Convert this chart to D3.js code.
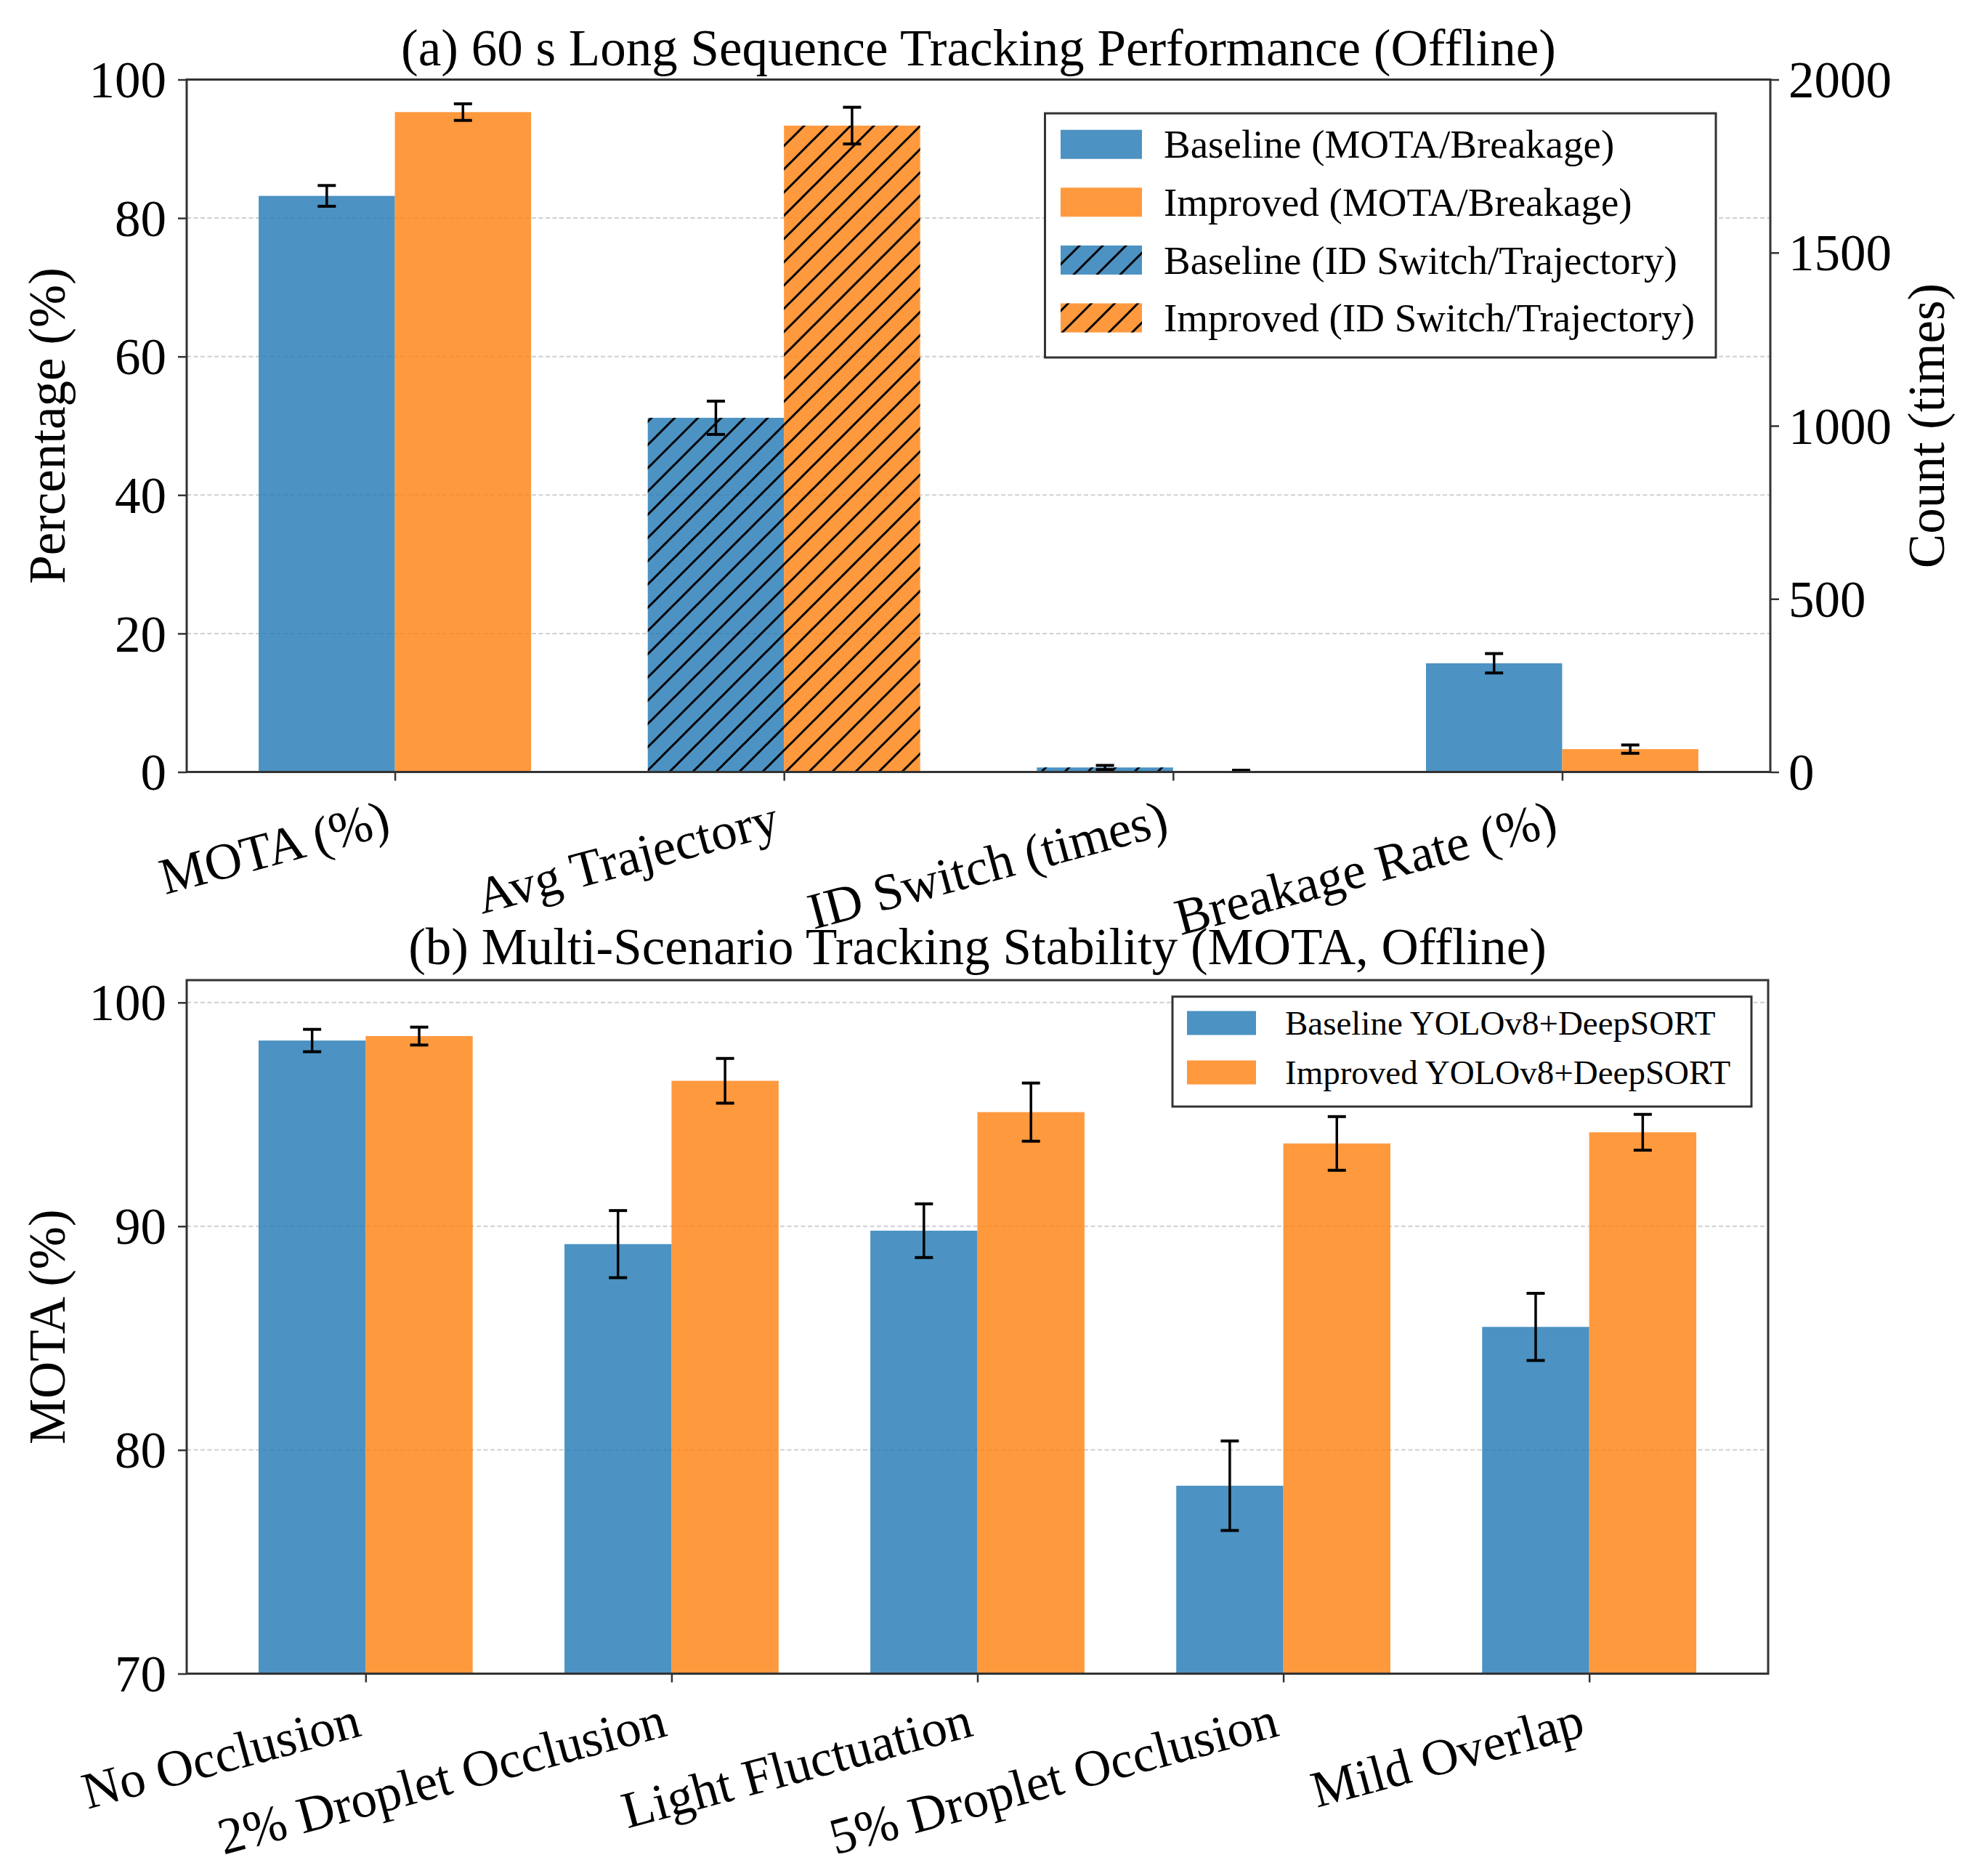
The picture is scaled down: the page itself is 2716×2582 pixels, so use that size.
<!DOCTYPE html>
<html>
<head>
<meta charset="utf-8">
<script src="https://cdn.jsdelivr.net/npm/d3@7"></script>
<style>
  html, body { margin: 0; padding: 0; background: #fff; }
  svg { display: block; }
</style>
</head>
<body>
<svg id="chart"></svg>
<script>
// ---- data: panel (a) ----
const topCategories = ["MOTA (%)", "Avg Trajectory", "ID Switch (times)", "Breakage Rate (%)"];
const topAxisSide = ["left", "right", "right", "left"];   // which y axis the pair uses
const topHatched = [false, true, true, false];
const topBaseline = [83.2, 1023, 13, 15.7];
const topBaselineErr = [1.5, 48, 6, 1.4];
const topImproved = [95.3, 1867, 3, 3.3];
const topImprovedErr = [1.2, 53, 2, 0.6];
const topLeftTicks = [0, 20, 40, 60, 80, 100];
const topRightTicks = [0, 500, 1000, 1500, 2000];
const topLegend = ["Baseline (MOTA/Breakage)", "Improved (MOTA/Breakage)",
  "Baseline (ID Switch/Trajectory)", "Improved (ID Switch/Trajectory)"];

// ---- data: panel (b) ----
const scenarios = ["No Occlusion", "2% Droplet Occlusion", "Light Fluctuation", "5% Droplet Occlusion", "Mild Overlap"];
const scenBaseline = [98.3, 89.2, 89.8, 78.4, 85.5];
const scenBaselineErr = [0.5, 1.5, 1.2, 2.0, 1.5];
const scenImproved = [98.5, 96.5, 95.1, 93.7, 94.2];
const scenImprovedErr = [0.4, 1.0, 1.3, 1.2, 0.8];
const scenTicks = [70, 80, 90, 100];
const scenLegend = ["Baseline YOLOv8+DeepSORT", "Improved YOLOv8+DeepSORT"];

const W = 2716, H = 2582;
const FONT = "'Liberation Serif', 'Times New Roman', serif";
const FS = 71;
const BLUE = "#1f77b4", ORANGE = "#ff7f0e";
const BAR_OPACITY = 0.8;
const SPINE = "#333";
const barW = 0.35;

const svg = d3.select("#chart").attr("width", W).attr("height", H)
  .style("font-family", FONT);
svg.append("rect").attr("width", W).attr("height", H).attr("fill", "#fff");

const defs = svg.append("defs");
defs.append("pattern")
  .attr("id", "hatch")
  .attr("patternUnits", "userSpaceOnUse")
  .attr("width", 32).attr("height", 32)
  .append("path")
  .attr("d", "M-8,8 L8,-8 M0,32 L32,0 M24,40 L40,24")
  .attr("stroke", "#000").attr("stroke-width", 3);

function styleAxis(g) {
  g.select(".domain").remove();
  g.selectAll(".tick line").attr("stroke", SPINE).attr("stroke-width", 2.5);
  g.selectAll(".tick text").attr("fill", "#000")
    .style("font-family", FONT).style("font-size", FS + "px");
}

function rotateLabels(g) {
  // matplotlib-ish rotation=15, ha='right'
  g.selectAll(".tick text")
    .attr("x", 0).attr("y", 0).attr("dy", null)
    .attr("text-anchor", "end")
    .attr("transform", "translate(-4,85) rotate(-15)");
}

function grid(g, y, ticks, x0, x1) {
  g.selectAll(null).data(ticks).enter().append("line")
    .attr("x1", x0).attr("x2", x1)
    .attr("y1", d => y(d)).attr("y2", d => y(d))
    .attr("stroke", "#d0d0d0").attr("stroke-width", 2)
    .attr("stroke-dasharray", "6,3.5");
}

function errBar(g, cx, yTop, yBot) {
  g.append("line").attr("x1", cx).attr("x2", cx).attr("y1", yTop).attr("y2", yBot)
    .attr("stroke", "#000").attr("stroke-width", 3.5);
  [yTop, yBot].forEach(yy => g.append("line")
    .attr("x1", cx - 12.5).attr("x2", cx + 12.5).attr("y1", yy).attr("y2", yy)
    .attr("stroke", "#000").attr("stroke-width", 4));
}

function frame(g, x0, y0, x1, y1) {
  g.append("rect").attr("x", x0).attr("y", y0)
    .attr("width", x1 - x0).attr("height", y1 - y0)
    .attr("fill", "none").attr("stroke", SPINE).attr("stroke-width", 3);
}

// ================= panel (a) =================
{
  const L = 257, R = 2437, T = 109.5, B = 1062.5;
  const g = svg.append("g");
  const x = d3.scaleLinear().domain([-0.535, topCategories.length - 1 + 0.535]).range([L, R]);
  const yL = d3.scaleLinear().domain([0, 100]).range([B, T]);
  const yR = d3.scaleLinear().domain([0, 2000]).range([B, T]);

  grid(g, yL, [20, 40, 60, 80], L, R);

  const series = [
    { vals: topBaseline, errs: topBaselineErr, color: BLUE, off: -barW / 2 },
    { vals: topImproved, errs: topImprovedErr, color: ORANGE, off: barW / 2 }
  ];
  series.forEach(s => {
    topCategories.forEach((c, i) => {
      const y = topAxisSide[i] === "left" ? yL : yR;
      const x0 = x(i + s.off - barW / 2), x1 = x(i + s.off + barW / 2);
      g.append("rect").attr("x", x0).attr("y", y(s.vals[i]))
        .attr("width", x1 - x0).attr("height", B - y(s.vals[i]))
        .attr("fill", s.color).attr("fill-opacity", BAR_OPACITY);
      if (topHatched[i]) {
        g.append("rect").attr("x", x0).attr("y", y(s.vals[i]))
          .attr("width", x1 - x0).attr("height", B - y(s.vals[i]))
          .attr("fill", "url(#hatch)");
      }
    });
  });
  series.forEach(s => {
    topCategories.forEach((c, i) => {
      const y = topAxisSide[i] === "left" ? yL : yR;
      errBar(g, x(i + s.off), y(s.vals[i] + s.errs[i]), y(Math.max(0, s.vals[i] - s.errs[i])));
    });
  });

  frame(g, L, T, R, B);

  g.append("g").attr("transform", `translate(0,${B})`)
    .call(d3.axisBottom(x).tickValues(d3.range(topCategories.length))
      .tickFormat(i => topCategories[i]).tickSize(12).tickSizeOuter(0))
    .call(styleAxis).call(rotateLabels);
  g.append("g").attr("transform", `translate(${L},0)`)
    .call(d3.axisLeft(yL).tickValues(topLeftTicks).tickFormat(d3.format("d"))
      .tickSize(12).tickPadding(16))
    .call(styleAxis)
    .selectAll(".tick text").attr("dy", "0.34em");
  g.append("g").attr("transform", `translate(${R},0)`)
    .call(d3.axisRight(yR).tickValues(topRightTicks).tickFormat(d3.format("d"))
      .tickSize(12).tickPadding(13))
    .call(styleAxis)
    .selectAll(".tick text").attr("dy", "0.34em");

  g.append("text").attr("x", (L + R) / 2).attr("y", 90)
    .attr("text-anchor", "middle").style("font-size", FS + "px")
    .text("(a) 60 s Long Sequence Tracking Performance (Offline)");
  g.append("text").attr("transform", `translate(89,${(T + B) / 2}) rotate(-90)`)
    .attr("text-anchor", "middle").style("font-size", FS + "px")
    .text("Percentage (%)");
  g.append("text").attr("transform", `translate(2676,${(T + B) / 2}) rotate(-90)`)
    .attr("text-anchor", "middle").style("font-size", FS + "px")
    .text("Count (times)");

  // legend
  const lg = g.append("g");
  lg.append("rect").attr("x", 1438.5).attr("y", 156).attr("width", 2362 - 1438.5).attr("height", 492 - 156)
    .attr("fill", "#fff").attr("stroke", SPINE).attr("stroke-width", 3);
  const rowY = d3.scaleLinear().domain([0, 3]).range([198.7, 437.5]);
  topLegend.forEach((t, i) => {
    const col = i % 2 === 0 ? BLUE : ORANGE;
    lg.append("rect").attr("x", 1460).attr("y", rowY(i) - 20).attr("width", 112).attr("height", 40)
      .attr("fill", col).attr("fill-opacity", BAR_OPACITY);
    if (i >= 2) {
      lg.append("rect").attr("x", 1460).attr("y", rowY(i) - 20).attr("width", 112).attr("height", 40)
        .attr("fill", "url(#hatch)");
    }
    lg.append("text").attr("x", 1602).attr("y", rowY(i)).attr("dy", "0.34em")
      .style("font-size", "55px").text(t);
  });
}

// ================= panel (b) =================
{
  const L = 257, R = 2434, T = 1349, B = 2303.5;
  const g = svg.append("g");
  const x = d3.scaleLinear().domain([-0.585, scenarios.length - 1 + 0.585]).range([L, R]);
  const y = d3.scaleLinear().domain([70, 101]).range([B, T]);

  grid(g, y, [80, 90, 100], L, R);

  const series = [
    { vals: scenBaseline, errs: scenBaselineErr, color: BLUE, off: -barW / 2 },
    { vals: scenImproved, errs: scenImprovedErr, color: ORANGE, off: barW / 2 }
  ];
  series.forEach(s => {
    scenarios.forEach((c, i) => {
      const x0 = x(i + s.off - barW / 2), x1 = x(i + s.off + barW / 2);
      g.append("rect").attr("x", x0).attr("y", y(s.vals[i]))
        .attr("width", x1 - x0).attr("height", B - y(s.vals[i]))
        .attr("fill", s.color).attr("fill-opacity", BAR_OPACITY);
    });
  });
  series.forEach(s => {
    scenarios.forEach((c, i) => {
      errBar(g, x(i + s.off), y(s.vals[i] + s.errs[i]), y(s.vals[i] - s.errs[i]));
    });
  });

  frame(g, L, T, R, B);

  g.append("g").attr("transform", `translate(0,${B})`)
    .call(d3.axisBottom(x).tickValues(d3.range(scenarios.length))
      .tickFormat(i => scenarios[i]).tickSize(12).tickSizeOuter(0))
    .call(styleAxis).call(rotateLabels);
  g.append("g").attr("transform", `translate(${L},0)`)
    .call(d3.axisLeft(y).tickValues(scenTicks).tickFormat(d3.format("d"))
      .tickSize(12).tickPadding(16))
    .call(styleAxis)
    .selectAll(".tick text").attr("dy", "0.34em");

  g.append("text").attr("x", (L + R) / 2).attr("y", 1327)
    .attr("text-anchor", "middle").style("font-size", FS + "px")
    .text("(b) Multi-Scenario Tracking Stability (MOTA, Offline)");
  g.append("text").attr("transform", `translate(89,${(T + B) / 2}) rotate(-90)`)
    .attr("text-anchor", "middle").style("font-size", FS + "px")
    .text("MOTA (%)");

  const lg = g.append("g");
  lg.append("rect").attr("x", 1614).attr("y", 1371.7).attr("width", 2411 - 1614).attr("height", 1523 - 1371.7)
    .attr("fill", "#fff").attr("stroke", SPINE).attr("stroke-width", 3);
  const rowY = d3.scaleLinear().domain([0, 1]).range([1408, 1476]);
  scenLegend.forEach((t, i) => {
    lg.append("rect").attr("x", 1634).attr("y", rowY(i) - 16.5).attr("width", 95).attr("height", 33)
      .attr("fill", i === 0 ? BLUE : ORANGE).attr("fill-opacity", BAR_OPACITY);
    lg.append("text").attr("x", 1769).attr("y", rowY(i)).attr("dy", "0.34em")
      .style("font-size", "47px").text(t);
  });
}
</script>
</body>
</html>
